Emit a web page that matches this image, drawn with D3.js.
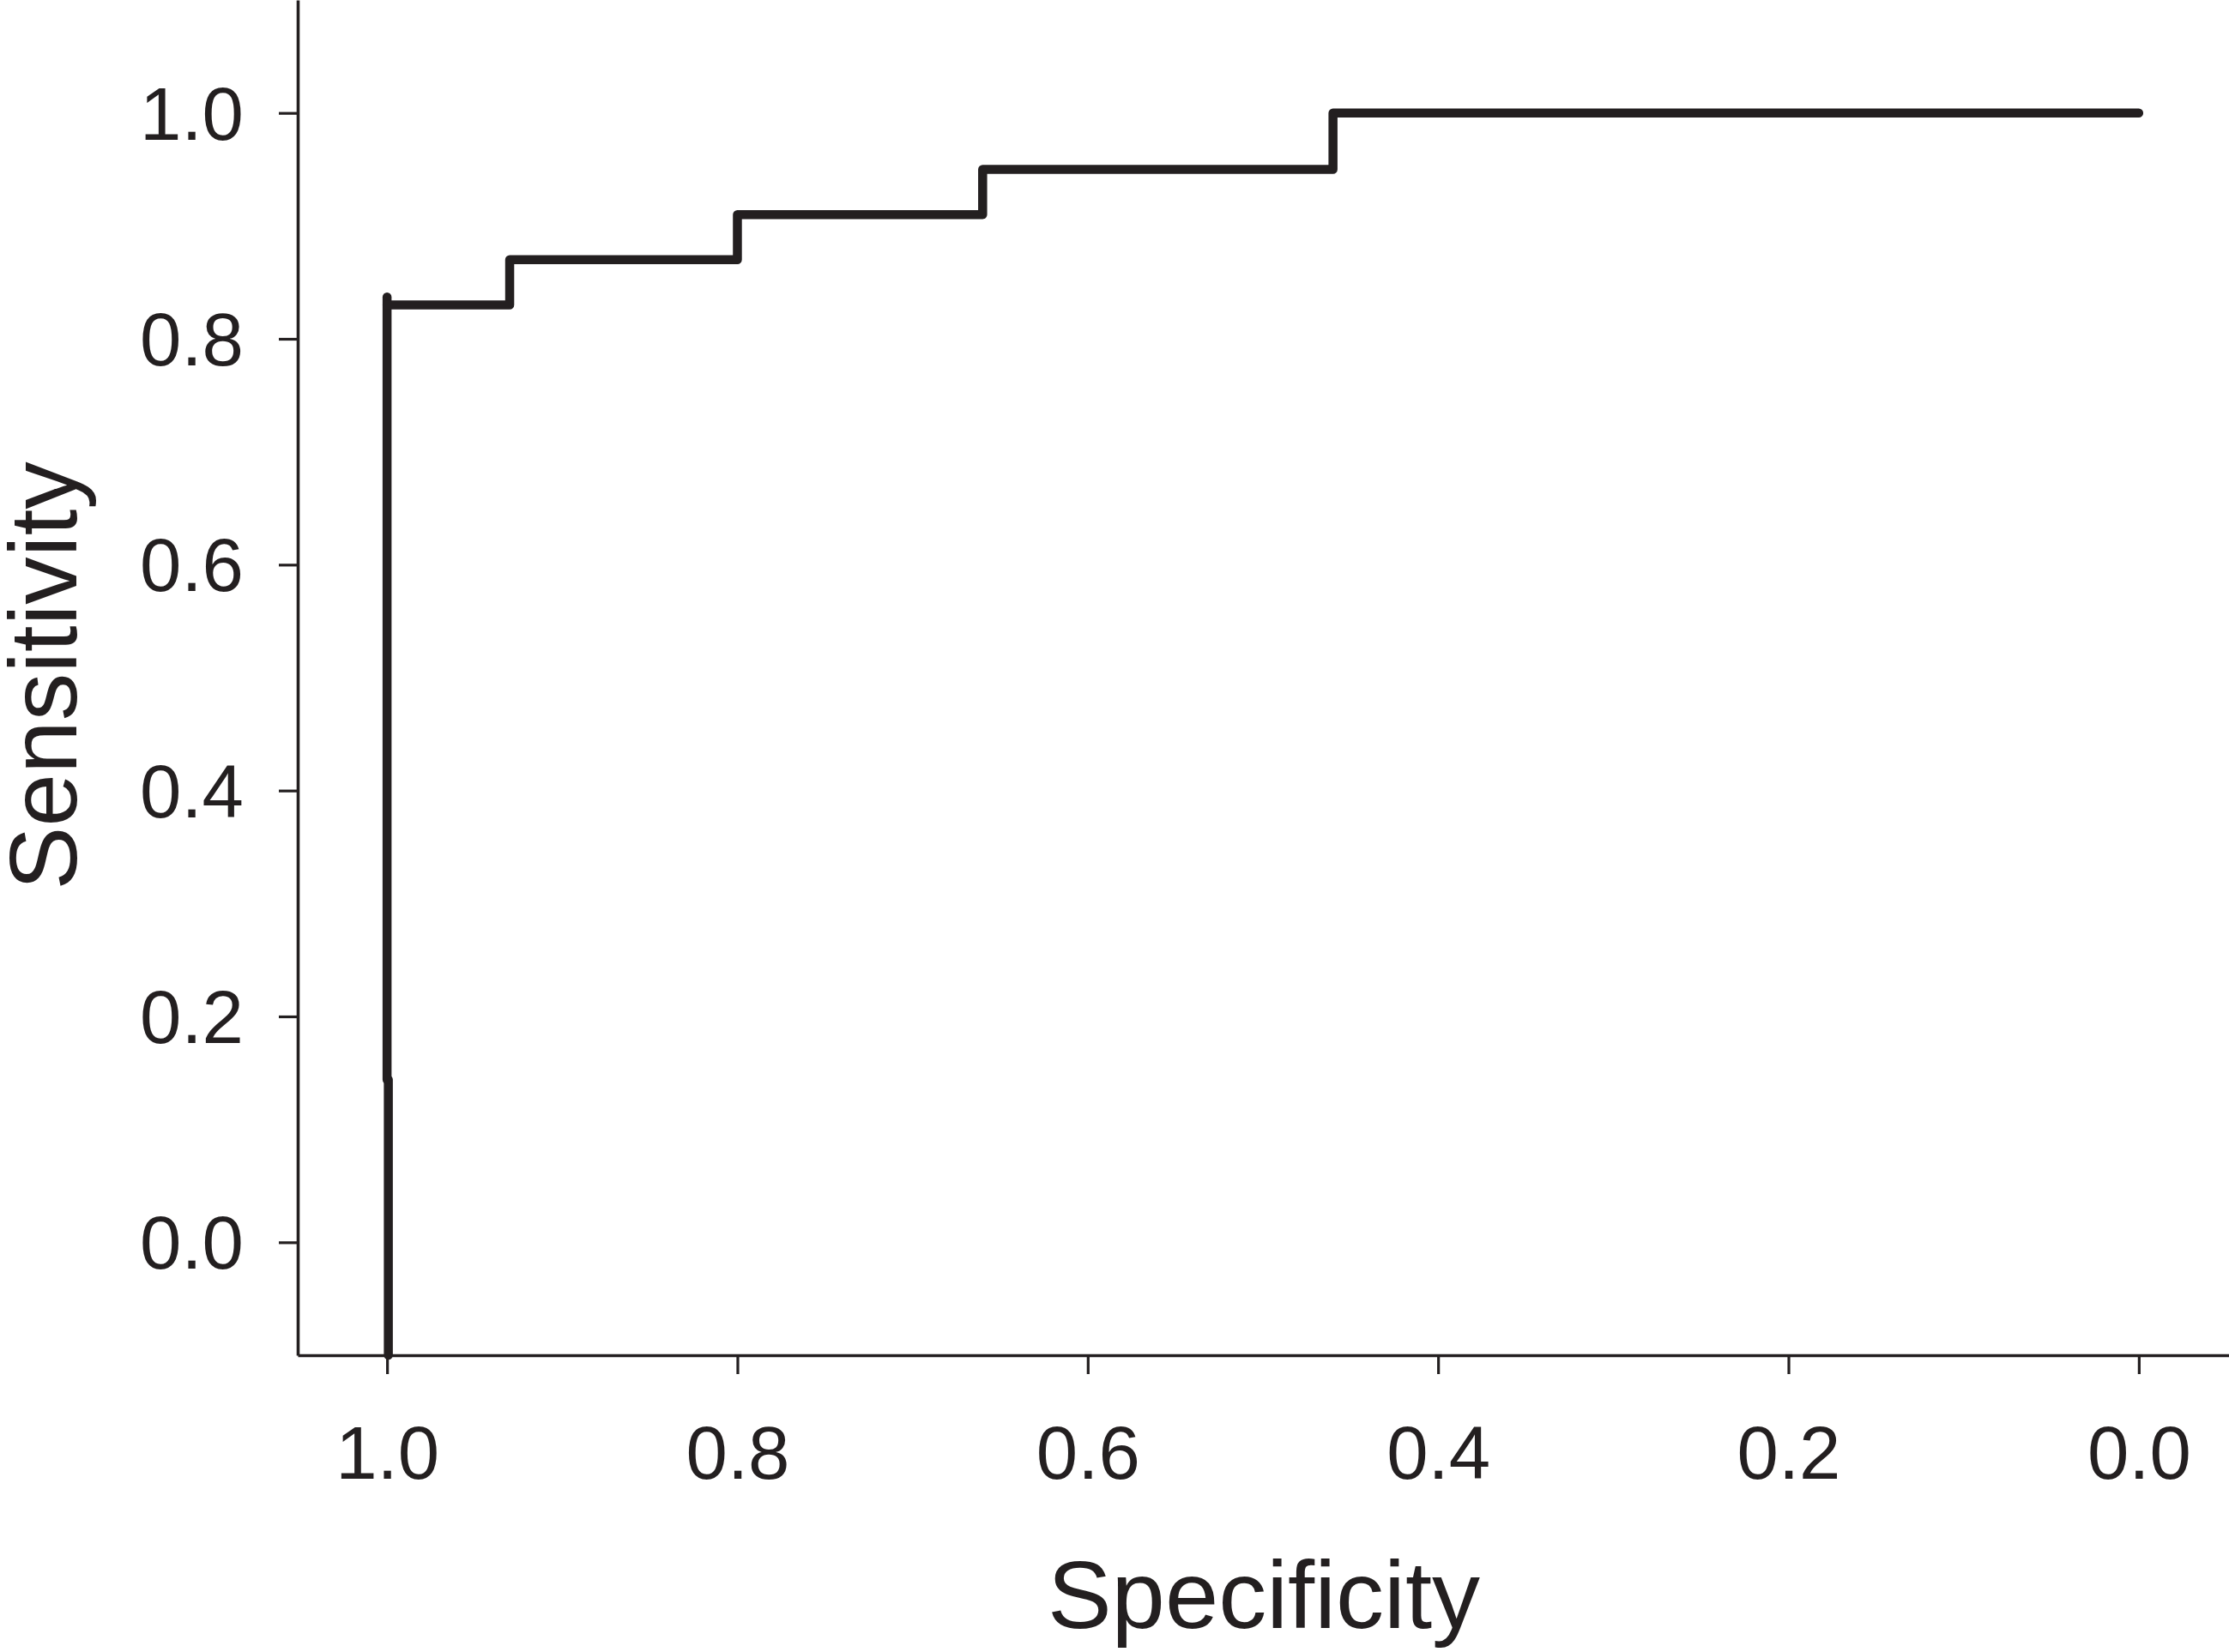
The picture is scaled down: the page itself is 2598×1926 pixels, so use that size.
<!DOCTYPE html>
<html>
<head>
<meta charset="utf-8">
<script src="https://cdn.jsdelivr.net/npm/d3@7"></script>
<style>
	body { margin: 0; background: #fff; }
	svg { display: block; }
	text { font-family: 'Liberation Sans', Arial, sans-serif; fill: #231f20; }
</style>
</head>
<body>
<svg id="roc"></svg>
<script>
// ROC curve (specificity runs 1 -> 0 left to right)
const specificity = [1.0, 0.93, 0.8, 0.66, 0.46, 0.0];
const sensitivity = [0.83, 0.87, 0.91, 0.95, 1.0, 1.0];

// the curve's lead-in at specificity 1.0 is drawn as two stacked pieces
const leadInSpecificity = 1.0;
const leadInBreaks = [-0.1, 0.144, 0.837];

const xTicks = [1.0, 0.8, 0.6, 0.4, 0.2, 0.0];
const yTicks = [0.0, 0.2, 0.4, 0.6, 0.8, 1.0];
const xTitle = 'Specificity';
const yTitle = 'Sensitivity';

const //
	width = 2598,
	height = 1926,
	ink = '#231f20';

const svg = d3.select('#roc').attr('width', width).attr('height', height);

svg.append('rect').attr('width', width).attr('height', height).attr('fill', '#fff');

const x = d3.scaleLinear().domain([1.051, -0.0515]).range([347, 2598]);
const y = d3.scaleLinear().domain([-0.1, 1.1]).range([1580, 0]);

//x axis
const gx = svg
	.append('g')
	.attr('transform', `translate(0,${y(-0.1)})`)
	.call(d3.axisBottom(x).tickValues(xTicks).tickFormat(d3.format('.1f')).tickSize(22).tickSizeOuter(0));

gx.select('.domain').attr('stroke', ink).attr('stroke-width', 3.6);
gx.selectAll('.tick line').attr('stroke', ink).attr('stroke-width', 3.2);
gx.selectAll('.tick text')
	.attr('y', 82)
	.attr('dy', '0.71em')
	.attr('font-size', 87)
	.attr('font-family', null)
	.attr('fill', ink);

//y axis
const gy = svg
	.append('g')
	.attr('transform', `translate(${x(1.051)},0)`)
	.call(d3.axisLeft(y).tickValues(yTicks).tickFormat(d3.format('.1f')).tickSize(22).tickSizeOuter(0));

gy.select('.domain').attr('stroke', ink).attr('stroke-width', 3.6);
gy.selectAll('.tick line').attr('stroke', ink).attr('stroke-width', 3.2);
gy.selectAll('.tick text')
	.attr('x', -63)
	.attr('dy', '0.35em')
	.attr('font-size', 87)
	.attr('font-family', null)
	.attr('fill', ink);

// lead-in pieces (the lower one sits a hair to the right, as in the source)
d3.pairs(leadInBreaks).forEach(([a, b], i) => {
	const nudge = i === 0 ? 1.5 : 0;
	svg.append('line')
		.attr('x1', x(leadInSpecificity) + nudge)
		.attr('x2', x(leadInSpecificity) + nudge)
		.attr('y1', y(a))
		.attr('y2', y(b))
		.attr('stroke', ink)
		.attr('stroke-width', 10.5)
		.attr('stroke-linecap', 'round');
});

// the stepped curve
const line = d3
	.line()
	.x((d, i) => x(specificity[i]))
	.y((d, i) => y(sensitivity[i]))
	.curve(d3.curveStepAfter);

svg.append('path')
	.attr('d', line(specificity))
	.attr('fill', 'none')
	.attr('stroke', ink)
	.attr('stroke-width', 10.5)
	.attr('stroke-linejoin', 'round')
	.attr('stroke-linecap', 'round');

// axis titles
svg.append('text')
	.attr('x', 1473)
	.attr('y', 1898)
	.attr('text-anchor', 'middle')
	.attr('font-size', 112)
	.text(xTitle);

svg.append('text')
	.attr('transform', 'translate(89,788) rotate(-90)')
	.attr('text-anchor', 'middle')
	.attr('font-size', 111)
	.text(yTitle);
</script>
</body>
</html>
